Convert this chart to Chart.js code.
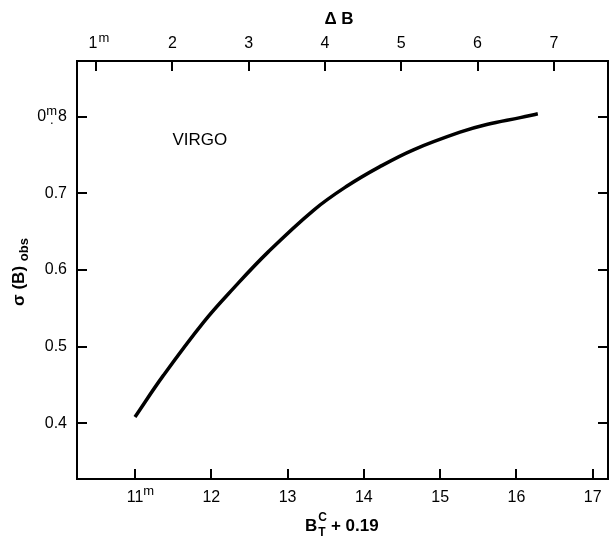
<!DOCTYPE html>
<html>
<head>
<meta charset="utf-8">
<script src="https://cdn.jsdelivr.net/npm/chart.js@4"></script>
<style>
  body { margin: 0; background: #fff; }
  #wrap { width: 610px; height: 536px; }
</style>
</head>
<body>
<div id="wrap"><canvas id="virgoChart" width="610" height="536"></canvas></div>
<script>
// curve: B_T^c + 0.19 vs sigma(B) obs
const bMag = [11.0, 11.37, 11.90, 12.29, 12.75, 13.34, 13.77, 14.21, 14.65, 15.26, 15.61, 16.05, 16.28];
const sigmaObs = [0.408, 0.462, 0.532, 0.576, 0.624, 0.678, 0.709, 0.735, 0.757, 0.780, 0.790, 0.799, 0.804];

// tick labels
const bottomTicks = [11, 12, 13, 14, 15, 16, 17];
const topTicks = [1, 2, 3, 4, 5, 6, 7];
const leftTicks = [0.4, 0.5, 0.6, 0.7, 0.8];

const FONT = '"Liberation Sans", Arial, Helvetica, sans-serif';

// draws inward tick marks, tick labels with superscript m, and axis titles
const axisLabels = {
    id: 'axisLabels',
    afterDraw(chart) {
        const ctx = chart.ctx;
        const area = chart.chartArea;
        const { x, x2, y } = chart.scales;
        const tickLen = 10;
        ctx.save();
        ctx.strokeStyle = '#000';
        ctx.fillStyle = '#000';
        ctx.lineWidth = 2;

        // tick marks
        ctx.beginPath();
        bottomTicks.forEach(v => {
            const px = Math.round(x.getPixelForValue(v));
            ctx.moveTo(px, area.bottom);
            ctx.lineTo(px, area.bottom - tickLen);
        });
        topTicks.forEach(v => {
            const px = Math.round(x2.getPixelForValue(v));
            ctx.moveTo(px, area.top);
            ctx.lineTo(px, area.top + tickLen);
        });
        leftTicks.forEach(v => {
            const py = Math.round(y.getPixelForValue(v));
            ctx.moveTo(area.left, py);
            ctx.lineTo(area.left + tickLen, py);
            ctx.moveTo(area.right, py);
            ctx.lineTo(area.right - tickLen, py);
        });
        ctx.stroke();

        // bottom labels
        ctx.textBaseline = 'middle';
        ctx.textAlign = 'center';
        bottomTicks.forEach((v, i) => {
            const px = x.getPixelForValue(v);
            ctx.font = '16px ' + FONT;
            ctx.fillText(String(v), px, 498);
            if (i === 0) {
                const w = ctx.measureText(String(v)).width;
                ctx.font = '13px ' + FONT;
                ctx.textAlign = 'left';
                ctx.fillText('m', px + w / 2, 491);
                ctx.textAlign = 'center';
            }
        });

        // top labels
        topTicks.forEach((v, i) => {
            const px = x2.getPixelForValue(v);
            ctx.font = '16px ' + FONT;
            ctx.fillText(String(v), px - (i === 0 ? 3 : 0), 44);
            if (i === 0) {
                const w = ctx.measureText(String(v)).width;
                ctx.font = '13px ' + FONT;
                ctx.textAlign = 'left';
                ctx.fillText('m', px + w / 2 - 2, 38);
                ctx.textAlign = 'center';
            }
        });

        // left labels
        ctx.textAlign = 'right';
        leftTicks.forEach(v => {
            const py = y.getPixelForValue(v);
            ctx.font = '16px ' + FONT;
            if (v === 0.8) {
                // 0.m8 style with the m above the decimal point
                const r = 67;
                const w8 = ctx.measureText('8').width;
                ctx.fillText('8', r, py);
                ctx.font = '13px ' + FONT;
                const wm = ctx.measureText('m').width;
                ctx.fillText('m', r - w8 - 1, py - 5);
                ctx.fillText('.', r - w8 - 1 - wm / 2 + 2, py + 4);
                ctx.font = '16px ' + FONT;
                ctx.fillText('0', r - w8 - 1 - wm, py);
            } else {
                ctx.fillText(v.toFixed(1), 67, py);
            }
        });

        // VIRGO label
        ctx.textAlign = 'center';
        ctx.font = '17px ' + FONT;
        ctx.fillText('VIRGO', x.getPixelForValue(11.85), y.getPixelForValue(0.770));

        // top title
        ctx.font = 'bold 17px ' + FONT;
        ctx.textBaseline = 'alphabetic';
        ctx.fillText('\u0394 B', 339, 24);

        // bottom title B_T^c + 0.19
        ctx.textAlign = 'left';
        ctx.font = 'bold 17px ' + FONT;
        let bx = 305;
        ctx.fillText('B', bx, 531);
        bx += ctx.measureText('B').width + 1;
        ctx.font = 'bold 12px ' + FONT;
        ctx.fillText('C', bx, 521);
        ctx.fillText('T', bx, 536);
        bx += ctx.measureText('C').width + 4;
        ctx.font = 'bold 17px ' + FONT;
        ctx.fillText('+ 0.19', bx, 531);

        // y title sigma (B) obs, rotated
        ctx.save();
        ctx.translate(24, 272);
        ctx.rotate(-Math.PI / 2);
        const main = '\u03c3 (B) ';
        ctx.font = 'bold 17px ' + FONT;
        const wMain = ctx.measureText(main).width;
        ctx.font = 'bold 13px ' + FONT;
        const wSub = ctx.measureText('obs').width;
        const tx = -(wMain + wSub) / 2;
        ctx.font = 'bold 17px ' + FONT;
        ctx.fillText(main, tx, 0);
        ctx.font = 'bold 13px ' + FONT;
        ctx.fillText('obs', tx + wMain, 4);
        ctx.restore();

        ctx.restore();
    }
};

const ctx = document.getElementById('virgoChart').getContext('2d');
const virgoChart = new Chart(ctx, {
    type: 'scatter',
    data: {
        datasets: [{
            data: bMag.map((b, i) => ({ x: b, y: sigmaObs[i] })),
            showLine: true,
            borderColor: '#000',
            borderWidth: 3.5,
            pointRadius: 0,
            tension: 0.4,
            fill: false
        }]
    },
    options: {
        responsive: false,
        animation: false,
        layout: { padding: { left: 77, top: 61, right: 2, bottom: 57 } },
        plugins: {
            legend: { display: false },
            tooltip: { enabled: false }
        },
        scales: {
            x: {
                type: 'linear', position: 'bottom', min: 10.24, max: 17.2,
                ticks: { display: false },
                grid: { display: false, drawTicks: false },
                border: { display: true, color: '#000', width: 2 }
            },
            x2: {
                type: 'linear', position: 'top', min: 0.75, max: 7.71,
                ticks: { display: false },
                grid: { display: false, drawTicks: false },
                border: { display: true, color: '#000', width: 2 }
            },
            y: {
                type: 'linear', position: 'left', min: 0.327, max: 0.873,
                ticks: { display: false },
                grid: { display: false, drawTicks: false },
                border: { display: true, color: '#000', width: 2 }
            },
            y2: {
                type: 'linear', position: 'right', min: 0.327, max: 0.873,
                ticks: { display: false },
                grid: { display: false, drawTicks: false },
                border: { display: true, color: '#000', width: 2 }
            }
        }
    },
    plugins: [axisLabels]
});
</script>
</body>
</html>
